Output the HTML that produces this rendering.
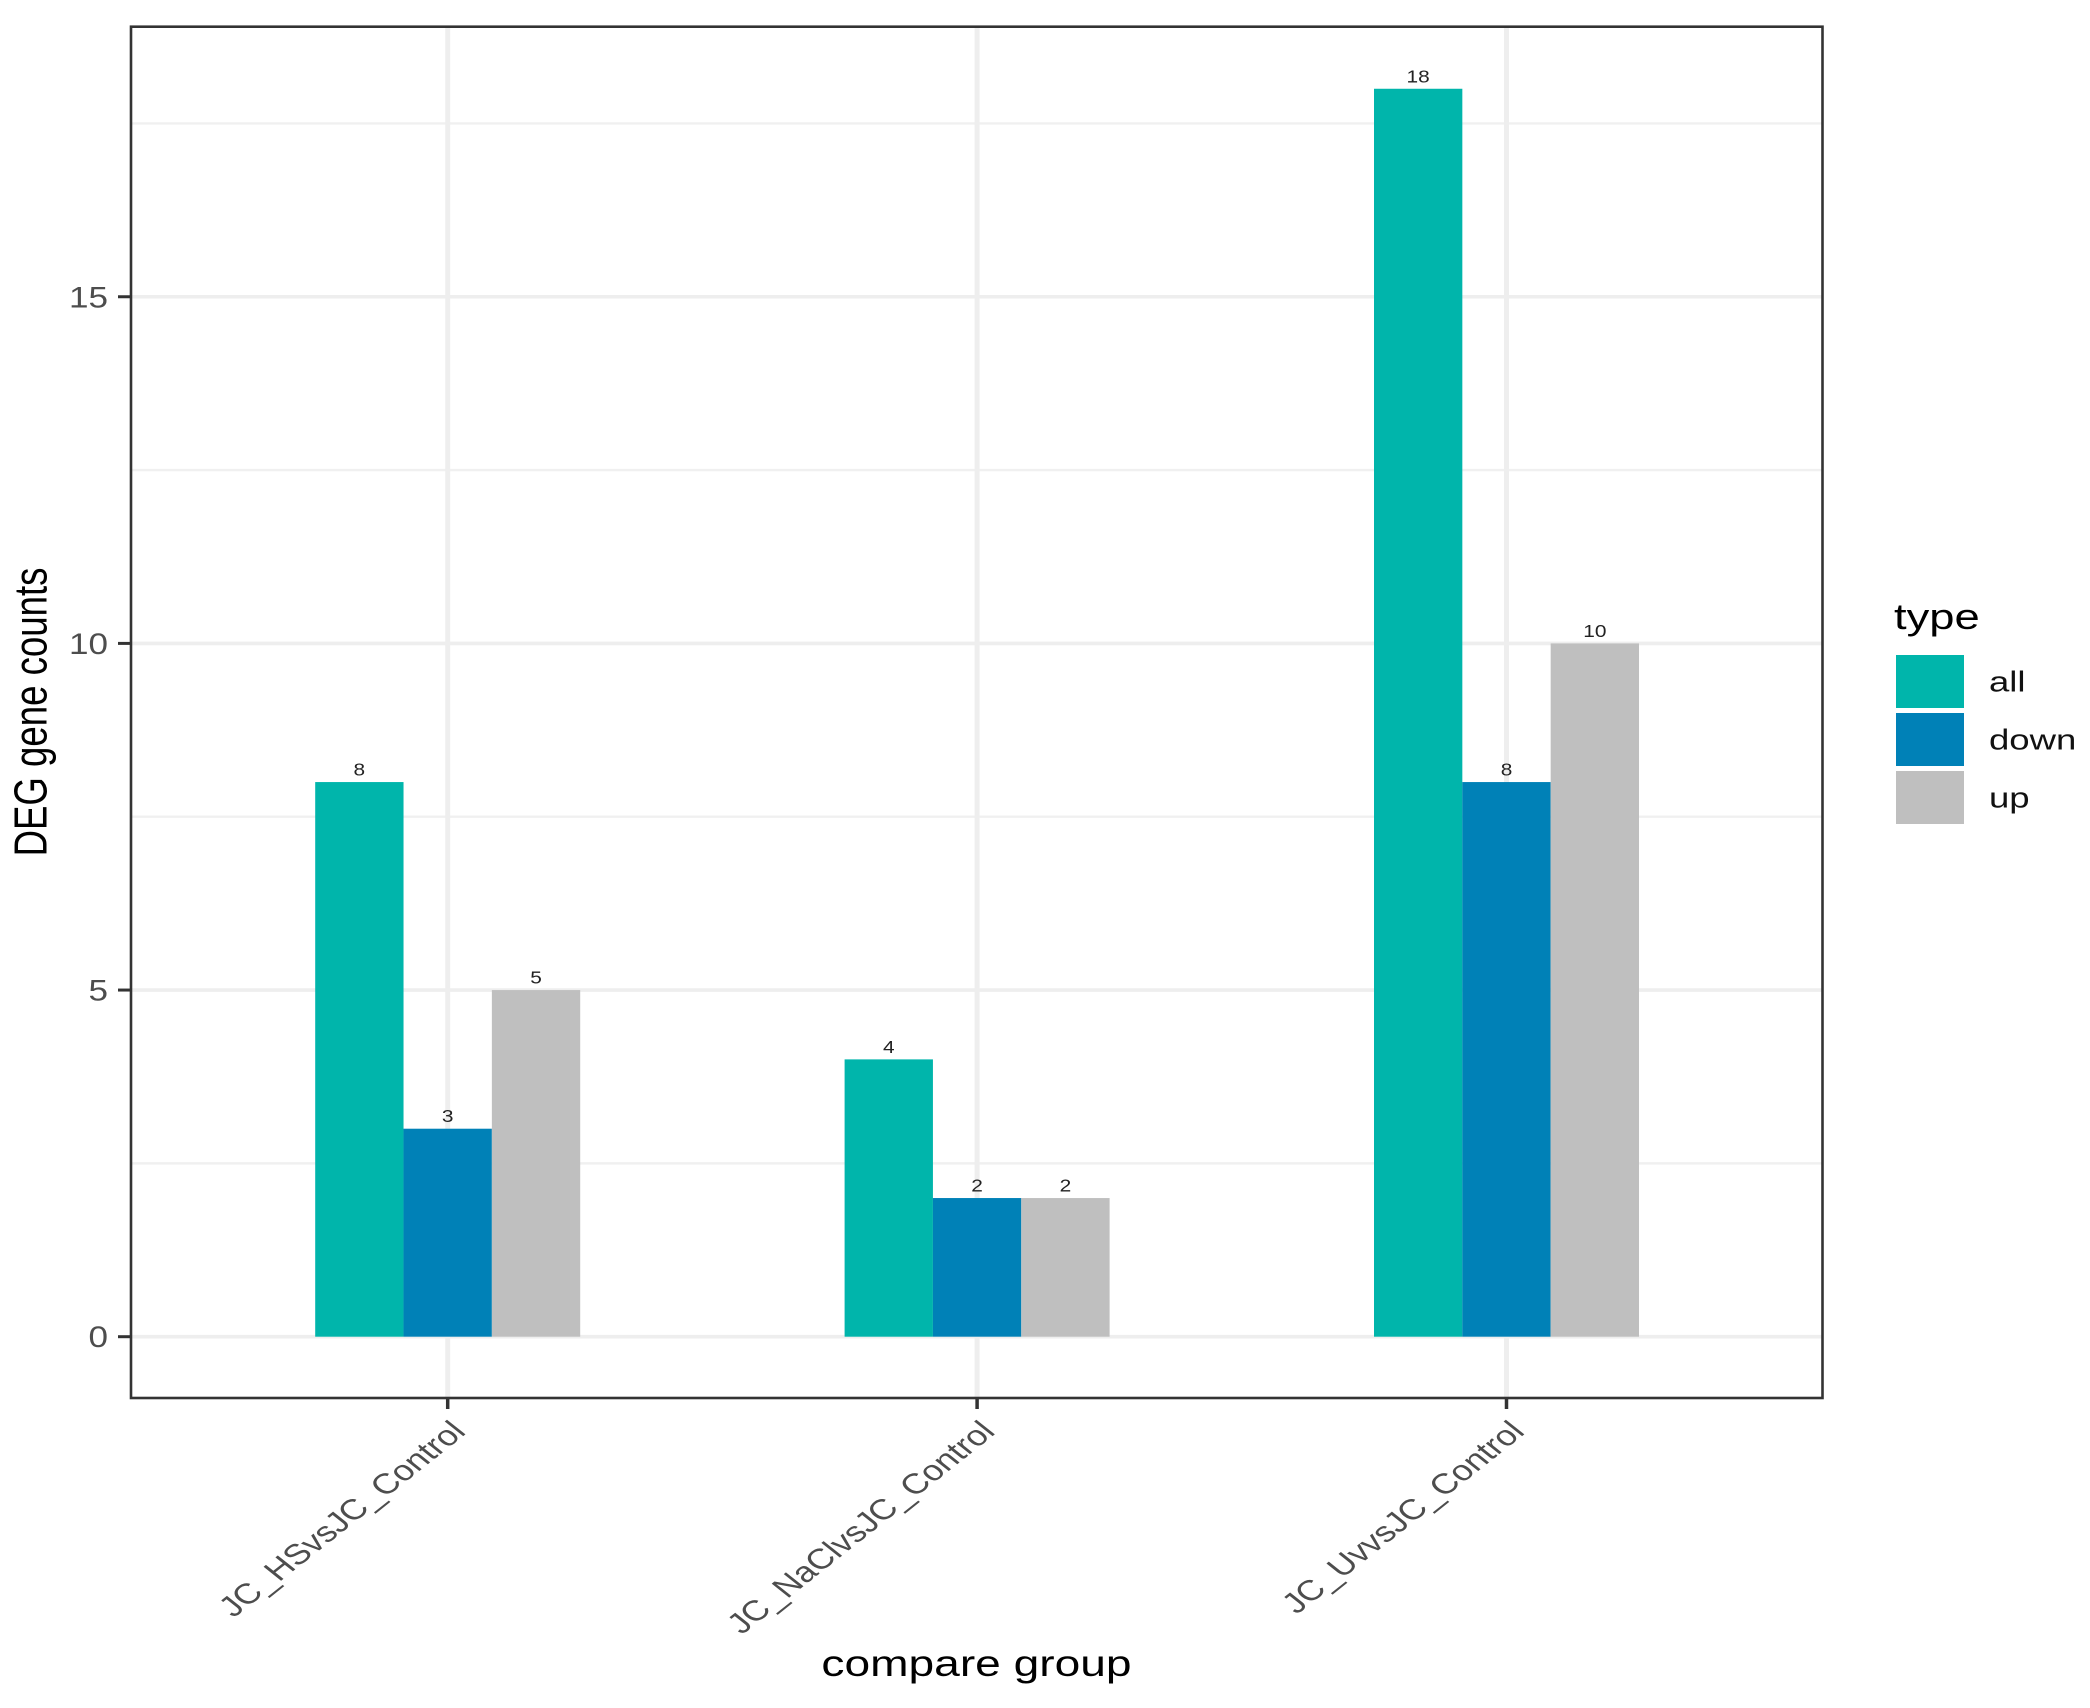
<!DOCTYPE html>
<html lang="en">
<head>
<meta charset="utf-8">
<title>DEG gene counts</title>
<style>
html,body{margin:0;padding:0;background:#fff;width:2090px;height:1708px;overflow:hidden}
svg{display:block}
text{font-family:"Liberation Sans",Arial,sans-serif}
</style>
</head>
<body>
<svg id="chart" xmlns="http://www.w3.org/2000/svg" width="2090" height="1708" viewBox="0 0 2090 1708"></svg>
<script>
var categories = ['JC_HSvsJC_Control', 'JC_NaClvsJC_Control', 'JC_UvvsJC_Control'];
var seriesNames = ['all', 'down', 'up'];
var allValues = [8, 4, 18];
var downValues = [3, 2, 8];
var upValues = [5, 2, 10];
var majorTicks = [0, 5, 10, 15];
var minorTicks = [2.5, 7.5, 12.5, 17.5];
var seriesColors = ['#00B5AB', '#0081B7', '#BFBFBF'];

var svg = document.getElementById('chart');
var NS = 'http://www.w3.org/2000/svg';
var panel = {left: 131, right: 1822.5, top: 26.7, bottom: 1398};
var stretch = 1.26;

function yScale(v) { return 1336.7 - v * 69.33; }
function xScale(i) { return 447.7 + i * 529.4; }
var groupWidth = 265;
var barWidth = groupWidth / seriesNames.length;
function barX(i, s) { return xScale(i) - groupWidth / 2 + s * barWidth; }

function make(tag, parent) {
  var el = document.createElementNS(NS, tag);
  parent.appendChild(el);
  return el;
}
function setAll(el, pairs) {
  for (var k in pairs) el.setAttribute(k, pairs[k]);
}

var bg = make('rect', svg);


setAll(bg, {x: 0, y: 0, width: 2090, height: 1708, fill: '#fff'});

/* grid */
var grid = make('g', svg);


minorTicks.forEach(function (t) {
  var l = make('line', grid);
  
  
  setAll(l, {x1: panel.left, x2: panel.right, y1: yScale(t), y2: yScale(t), stroke: '#F0F0F0', 'stroke-width': 2.4});
});
majorTicks.forEach(function (t) {
  var l = make('line', grid);
  
  
  setAll(l, {x1: panel.left, x2: panel.right, y1: yScale(t), y2: yScale(t), stroke: '#EEEEEE', 'stroke-width': 3.6});
});
categories.forEach(function (c, i) {
  var l = make('line', grid);
  
  
  setAll(l, {x1: xScale(i), x2: xScale(i), y1: panel.top, y2: panel.bottom, stroke: '#EEEEEE', 'stroke-width': 5});
});

/* bars + value labels */
var seriesValues = [allValues, downValues, upValues];
seriesValues.forEach(function (vals, s) {
  var g = make('g', svg);
  
  
  vals.forEach(function (v, i) {
    var r = make('rect', g);
    
    
    setAll(r, {x: barX(i, s), y: yScale(v), width: barWidth, height: yScale(0) - yScale(v), fill: seriesColors[s]});
    var t = make('text', g);
    
    
    setAll(t, {transform: 'translate(' + (barX(i, s) + barWidth / 2) + ',' + (yScale(v) - 6.5) + ') scale(1.2,1)', 'text-anchor': 'middle', 'font-size': 17.4, fill: '#222'});
    t.textContent = String(v);
  });
});

/* panel border */
var border = make('rect', svg);


setAll(border, {x: panel.left, y: panel.top, width: panel.right - panel.left, height: panel.bottom - panel.top, fill: 'none', stroke: '#333', 'stroke-width': 2.6});

/* y ticks */
majorTicks.forEach(function (t) {
  var l = make('line', svg);
  
  
  setAll(l, {x1: panel.left - 13, x2: panel.left, y1: yScale(t), y2: yScale(t), stroke: '#333', 'stroke-width': 3});
  var tx = make('text', svg);
  
  
  setAll(tx, {transform: 'translate(108,' + (yScale(t) + 10.5) + ') scale(1.19,1)', 'text-anchor': 'end', 'font-size': 29.5, fill: '#4D4D4D'});
  tx.textContent = String(t);
});

/* x ticks */
categories.forEach(function (c, i) {
  var l = make('line', svg);
  
  
  setAll(l, {x1: xScale(i), x2: xScale(i), y1: panel.bottom, y2: panel.bottom + 11, stroke: '#333', 'stroke-width': 3.5});
  var tx = make('text', svg);
  
  
  setAll(tx, {transform: 'translate(' + (xScale(i) + 19.5) + ',1433) scale(' + stretch + ',1) rotate(-45)', 'text-anchor': 'end', 'font-size': 28.6, fill: '#4D4D4D'});
  tx.textContent = c;
});

/* axis titles */
var xt = make('text', svg);


setAll(xt, {transform: 'translate(976.5,1676) scale(' + stretch + ',1)', 'text-anchor': 'middle', 'font-size': 36.6, fill: '#000'});
xt.textContent = 'compare group';

var yt = make('text', svg);


setAll(yt, {transform: 'translate(46.5,712) scale(' + stretch + ',1) rotate(-90)', 'text-anchor': 'middle', 'font-size': 36.6, fill: '#000'});
yt.textContent = 'DEG gene counts';

/* legend */
var legend = make('g', svg);


var lt = make('text', legend);


setAll(lt, {transform: 'translate(1894,629) scale(' + stretch + ',1)', 'font-size': 36, fill: '#000'});
lt.textContent = 'type';
seriesNames.forEach(function (n, s) {
  var key = make('rect', legend);
  
  
  setAll(key, {x: 1896, y: 655 + s * 58, width: 68, height: 53, fill: seriesColors[s]});
  var lab = make('text', legend);
  
  
  setAll(lab, {transform: 'translate(1989,' + (691.5 + s * 58) + ') scale(' + stretch + ',1)', 'font-size': 29, fill: '#111'});
  lab.textContent = n;
});
</script>
</body>
</html>
